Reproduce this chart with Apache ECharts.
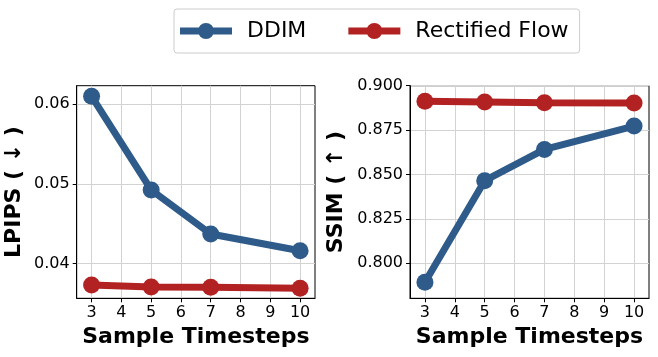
<!DOCTYPE html>
<html><head><meta charset="utf-8">
<script src="https://cdn.jsdelivr.net/npm/echarts@6/dist/echarts.min.js"></script>
<style>html,body{margin:0;padding:0;background:#fff}#c{width:658px;height:357px}</style>
</head><body><div id="c"></div>
<script>
const timesteps = [3, 5, 7, 10];
const xTicks = [3, 4, 5, 6, 7, 8, 9, 10];
const lpipsDDIM = [0.0610, 0.04925, 0.04373, 0.04163];
const lpipsRF = [0.03733, 0.03708, 0.03704, 0.03691];
const ssimDDIM = [0.7893, 0.8465, 0.8641, 0.8773];
const ssimRF = [0.8912, 0.8908, 0.8904, 0.8903];
const lpipsTicks = [0.04, 0.05, 0.06];
const ssimTicks = [0.800, 0.825, 0.850, 0.875, 0.900];
const seriesNames = ['DDIM', 'Rectified Flow'];
const colors = ['#2e5b8a', '#b22222'];

const FONT = 'DejaVu Sans';
const pairs = (vals) => timesteps.map((t, i) => [t, vals[i]]);

function xAxis(idx) {
  return {
    gridIndex: idx, type: 'value', min: 2.5, max: 10.5,
    name: 'Sample Timesteps', nameLocation: 'middle', nameGap: 22,
    nameTextStyle: { fontFamily: FONT, fontSize: 22, fontWeight: 'bold', color: '#000' },
    axisLine: { show: true, lineStyle: { color: '#000', width: 1 } },
    axisTick: { show: true, customValues: xTicks, length: 4, lineStyle: { color: '#000' } },
    axisLabel: { customValues: xTicks, fontFamily: FONT, fontSize: 16, color: '#000', margin: 7 },
    splitLine: { show: true, customValues: xTicks, lineStyle: { color: '#d3d3d3', width: 1 } }
  };
}
function yAxis(idx, min, max, ticks, name, gap, dec) {
  return {
    gridIndex: idx, type: 'value', min: min, max: max,
    name: name, nameLocation: 'middle', nameGap: gap,
    nameTextStyle: { fontFamily: FONT, fontSize: 22, fontWeight: 'bold', color: '#000' },
    axisLine: { show: true, lineStyle: { color: '#000', width: 1 } },
    axisTick: { show: true, customValues: ticks, length: 4, lineStyle: { color: '#000' } },
    axisLabel: { customValues: ticks, fontFamily: FONT, fontSize: 16, color: '#000', margin: 7,
      formatter: v => v.toFixed(dec) },
    splitLine: { show: true, customValues: ticks, lineStyle: { color: '#d3d3d3', width: 1 } }
  };
}
function lineSeries(name, data, color, xi) {
  return {
    name: name, type: 'line', xAxisIndex: xi, yAxisIndex: xi, data: pairs(data),
    symbol: 'circle', symbolSize: 17, color: color,
    lineStyle: { width: 7, color: color }, itemStyle: { color: color },
    emphasis: { disabled: true }, animation: false
  };
}

const chart = echarts.init(document.getElementById('c'), null, { renderer: 'canvas' });
chart.setOption({
  animation: false,
  legend: {
    data: seriesNames, top: 9, left: 174, itemWidth: 52, itemHeight: 16, itemGap: 42,
    padding: [11, 11, 11, 6],
    borderColor: '#cccccc', borderWidth: 1, borderRadius: 3,
    formatter: n => '{t|' + n + '}',
    textStyle: { fontFamily: FONT, fontSize: 22, color: '#000',
      rich: { t: { fontFamily: FONT, fontSize: 22, color: '#000', padding: [0, 0, 0, 10] } } },
    icon: 'path://M0,4.5L52,4.5L52,11.5L0,11.5Z M18,8A8,8 0 1,1 34,8A8,8 0 1,1 18,8Z'
  },
  grid: [
    { left: 76.7, top: 85.7, width: 238.3, height: 212.6, show: true, borderColor: '#000', borderWidth: 1, backgroundColor: 'transparent' },
    { left: 410, top: 85.7, width: 239, height: 212.6, show: true, borderColor: '#000', borderWidth: 1, backgroundColor: 'transparent' }
  ],
  xAxis: [xAxis(0), xAxis(1)],
  yAxis: [
    yAxis(0, 0.03566, 0.06233, lpipsTicks, 'LPIPS ( ↓ )', 51, 2),
    yAxis(1, 0.7803, 0.9, ssimTicks, 'SSIM ( ↑ )', 63, 3)
  ],
  series: [
    lineSeries(seriesNames[0], lpipsDDIM, colors[0], 0),
    lineSeries(seriesNames[1], lpipsRF, colors[1], 0),
    lineSeries(seriesNames[0], ssimDDIM, colors[0], 1),
    lineSeries(seriesNames[1], ssimRF, colors[1], 1)
  ]
});
</script></body></html>
